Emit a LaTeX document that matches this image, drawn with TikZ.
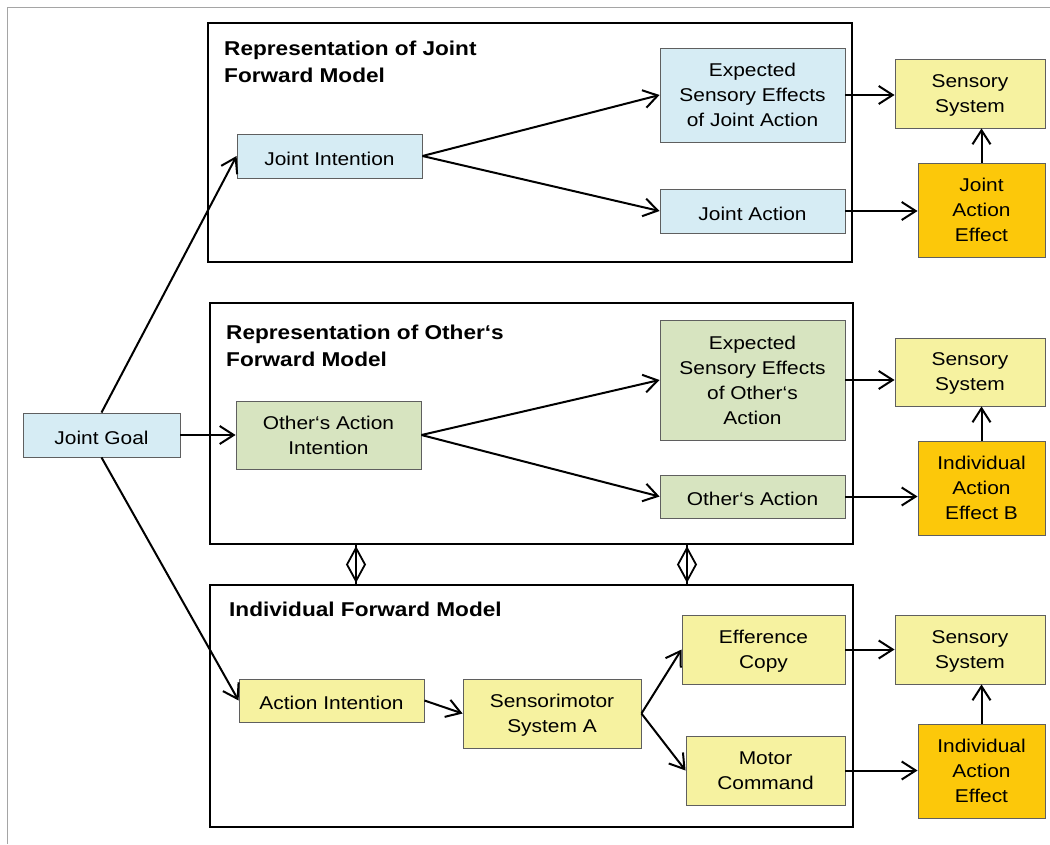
\documentclass[tikz,border=0pt]{standalone}
\usepackage{fontspec}
\setmainfont[FakeStretch=1.13]{Liberation Sans}
\usetikzlibrary{arrows.meta}
\definecolor{cblue}{RGB}{214,236,244}
\definecolor{cgreen}{RGB}{215,228,192}
\definecolor{cyellow}{RGB}{246,242,160}
\definecolor{corange}{RGB}{252,200,10}
\definecolor{cborder}{RGB}{95,95,95}
\definecolor{cframe}{RGB}{165,165,165}
\newcommand{\topstrut}{\rule{0pt}{20pt}}
\newcommand{\botstrut}{\rule[-2pt]{0pt}{2pt}}
\tikzset{
  box/.style={draw=cborder, line width=0.9pt, inner sep=2pt, align=center,
    font=\fontsize{18.5}{25}\selectfont, text=black,
    execute at begin node=\topstrut, execute at end node=\botstrut},
  multi/.style={text depth=-6.5pt},
  bluebox/.style={box, fill=cblue},
  greenbox/.style={box, fill=cgreen},
  yellowbox/.style={box, fill=cyellow},
  orangebox/.style={box, fill=corange},
  panel/.style={draw=black, line width=2.6pt, inner sep=0pt},
  ptitle/.style={anchor=base west, inner sep=0pt, align=left,
    font=\fontsize{20}{27.5}\selectfont\bfseries},
  arr/.style={line width=2pt, -{Straight Barb[length=14pt,width=18pt,line width=2pt]}},
  link/.style={line width=1.9pt},
}
\begin{document}
\begin{tikzpicture}[x=1pt,y=-1pt]
\useasboundingbox (0,0) rectangle (1050,844);
\fill[white] (0,0) rectangle (1050,844);
\draw[cframe, line width=1.4pt] (7.5,844) -- (7.5,7.5) -- (1050,7.5);

% panels
\node[panel, minimum width=644, minimum height=239] (p1) at (530,142.5) {};
\node[panel, minimum width=643, minimum height=241] (p2) at (531.5,423.5) {};
\node[panel, minimum width=643, minimum height=242] (p3) at (531.5,706) {};

\node[ptitle] (t1) at (224,82.5) {Representation of Joint\\Forward Model};
\node[ptitle] (t2) at (226,366.5) {Representation of Other‘s\\Forward Model};
\node[ptitle] (t3) at (229,616) {Individual Forward Model};

% nodes
\node[bluebox, minimum width=157, minimum height=44] (jg) at (101.5,435) {Joint Goal};

\node[bluebox, minimum width=185, minimum height=44] (ji) at (329.5,156) {Joint Intention};
\node[bluebox, multi, minimum width=185, minimum height=94] (exp1) at (752.5,95) {Expected\\Sensory Effects\\of Joint Action};
\node[bluebox, minimum width=185, minimum height=44] (ja) at (752.5,211) {Joint Action};
\node[yellowbox, multi, minimum width=150, minimum height=69] (ss1) at (970,93.5) {Sensory\\System};
\node[orangebox, multi, minimum width=127, minimum height=94] (jae) at (981.5,210) {Joint\\Action\\Effect};

\node[greenbox, multi, minimum width=185, minimum height=68] (oai) at (328.5,435) {Other‘s Action\\Intention};
\node[greenbox, multi, minimum width=185, minimum height=120] (exp2) at (752.5,380) {Expected\\Sensory Effects\\of Other‘s\\Action};
\node[greenbox, minimum width=185, minimum height=43] (oa) at (752.5,496.5) {Other‘s Action};
\node[yellowbox, multi, minimum width=150, minimum height=68] (ss2) at (970,372) {Sensory\\System};
\node[orangebox, multi, minimum width=127, minimum height=94] (iaeb) at (981.5,488) {Individual\\Action\\Effect B};

\node[yellowbox, minimum width=185, minimum height=43] (ai) at (331.5,700.5) {Action Intention};
\node[yellowbox, multi, minimum width=178, minimum height=69] (sm) at (552,713.5) {Sensorimotor\\System A};
\node[yellowbox, multi, minimum width=163, minimum height=69] (ec) at (763.5,649.5) {Efference\\Copy};
\node[yellowbox, multi, minimum width=159, minimum height=69] (mc) at (765.5,770.5) {Motor\\Command};
\node[yellowbox, multi, minimum width=150, minimum height=69] (ss3) at (970,649.5) {Sensory\\System};
\node[orangebox, multi, minimum width=127, minimum height=94] (iae) at (981.5,771) {Individual\\Action\\Effect};

% connectors from joint goal
\draw[arr] (jg.north) -- (ji.west);
\draw[arr] (jg.east) -- (oai.west);
\draw[arr] (jg.south) -- (ai.west);

% panel 1
\draw[arr] (ji.east) -- (exp1.west);
\draw[arr] (ji.east) -- (ja.west);
\draw[arr] (exp1.east) -- (exp1.east -| ss1.west);
\draw[arr] (ja.east) -- (ja.east -| jae.west);
\draw[arr] (jae.north) -- (jae.north |- ss1.south);

% panel 2
\draw[arr] (oai.east) -- (exp2.west);
\draw[arr] (oai.east) -- (oa.west);
\draw[arr] (exp2.east) -- (exp2.east -| ss2.west);
\draw[arr] (oa.east) -- (oa.east -| iaeb.west);
\draw[arr] (iaeb.north) -- (iaeb.north |- ss2.south);

% panel 3
\draw[arr] (ai.east) -- (sm.west);
\draw[arr] (sm.east) -- (ec.west);
\draw[arr] (sm.east) -- (mc.west);
\draw[arr] (ec.east) -- (ec.east -| ss3.west);
\draw[arr] (mc.east) -- (mc.east -| iae.west);
\draw[arr] (iae.north) -- (iae.north |- ss3.south);

% double diamond links between panel 2 and 3
\coordinate (d1) at (356,564.5);
\coordinate (d2) at (687,564.5);
\foreach \d in {d1,d2}{
  \draw[link] (\d |- p2.south) -- (\d |- p3.north);
  \draw[line width=1.8pt, line join=miter, shift={(\d)}] (0,-16.5) -- (9,0) -- (0,16.5) -- (-9,0) -- cycle;
}
\end{tikzpicture}
\end{document}
